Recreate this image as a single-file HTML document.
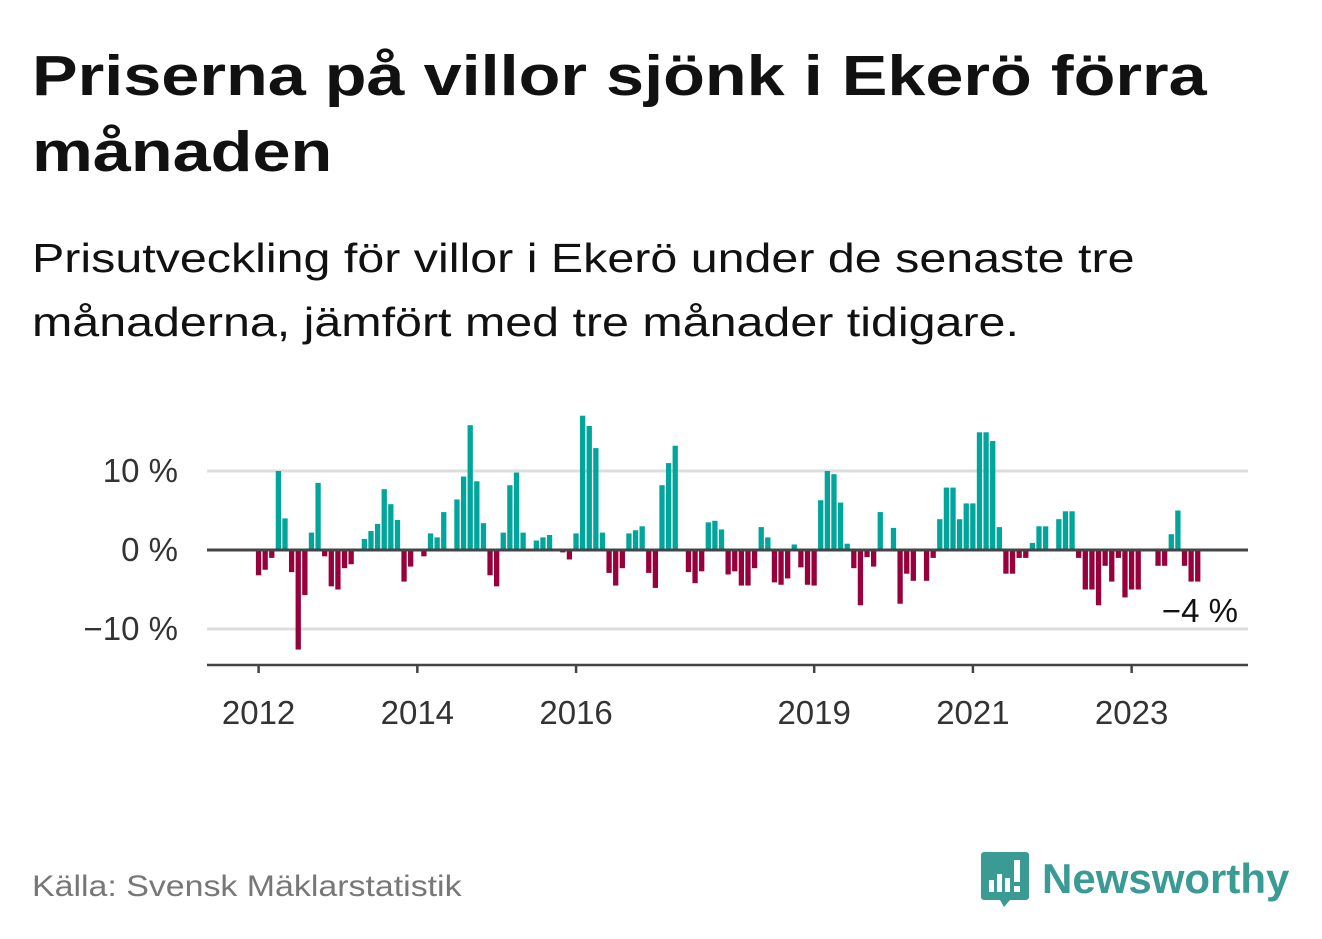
<!DOCTYPE html>
<html><head><meta charset="utf-8"><style>
body{margin:0;width:1322px;height:939px;background:#fff;font-family:"Liberation Sans","DejaVu Sans",sans-serif;overflow:hidden;position:relative}
h1{position:absolute;left:32px;top:38px;margin:0;font-size:57px;line-height:76px;font-weight:bold;color:#111;white-space:nowrap;transform:scaleX(1.2);transform-origin:0 0}
.sub{position:absolute;left:32px;top:226px;margin:0;font-size:41px;line-height:64px;color:#111;white-space:nowrap;transform:scaleX(1.18);transform-origin:0 0}
.src{position:absolute;left:32px;top:870px;font-size:30px;color:#777;white-space:nowrap;transform:scaleX(1.13);transform-origin:0 0}
.logo{position:absolute;left:980px;top:850px;display:flex;align-items:center}
.logo span{font-size:42px;font-weight:bold;color:#3a9b94;margin-left:12px}
</style></head><body>
<h1>Priserna på villor sjönk i Ekerö förra<br>månaden</h1>
<p class="sub">Prisutveckling för villor i Ekerö under de senaste tre<br>månaderna, jämfört med tre månader tidigare.</p>
<svg id="chart" width="1322" height="939" style="position:absolute;left:0;top:0" font-family="Liberation Sans, DejaVu Sans, sans-serif"></svg>
<div class="src">Källa: Svensk Mäklarstatistik</div>
<div class="logo">
<svg width="50" height="58" viewBox="0 0 50 58"><path d="M4 2h42a3 3 0 0 1 3 3v42a3 3 0 0 1-3 3H30l-6 7-4-7H4a3 3 0 0 1-3-3V5a3 3 0 0 1 3-3z" fill="#3a9b94"/><rect x="9" y="30" width="5" height="12" fill="#fff"/><rect x="17" y="24" width="5" height="18" fill="#fff"/><rect x="25" y="28" width="5" height="14" fill="#fff"/><rect x="34" y="10" width="6" height="22" fill="#fff"/><rect x="34" y="36" width="6" height="6" fill="#fff"/></svg>
<span>Newsworthy</span></div>
<script>
const values=[-3.2,-2.5,-1,10,4,-2.8,-12.6,-5.7,2.2,8.5,-0.8,-4.6,-5,-2.3,-1.8,0,1.4,2.4,3.3,7.7,5.8,3.8,-4,-2.1,0,-0.8,2.1,1.6,4.8,0,6.4,9.3,15.8,8.7,3.4,-3.2,-4.6,2.2,8.2,9.8,2.2,0,1.2,1.6,1.9,0,-0.3,-1.2,2.1,17,15.7,12.9,2.2,-2.9,-4.5,-2.3,2.1,2.5,3.0,-2.9,-4.8,8.2,11,13.2,0,-2.8,-4.2,-2.7,3.5,3.7,2.6,-3.1,-2.7,-4.5,-4.5,-2.3,2.9,1.6,-4.1,-4.4,-3.6,0.7,-2.2,-4.4,-4.5,6.3,10,9.6,6,0.8,-2.3,-7,-0.9,-2.1,4.8,0,2.8,-6.8,-3,-3.9,0,-3.9,-1,3.9,7.9,7.9,3.9,5.9,5.9,14.9,14.9,13.8,2.9,-3,-3,-1,-1,0.9,3,3,0,3.9,4.9,4.9,-1,-5,-5,-7,-2,-4,-1,-6,-5,-5,0,0,-2,-2,2,5,-2,-4,-4];
const yTicks=[10,0,-10];
const yTickLabels=["10 %","0 %","−10 %"];
const xYears=[2012,2014,2016,2019,2021,2023];
const lastLabel="−4 %";
const svg=document.getElementById('chart');const NS='http://www.w3.org/2000/svg';
const y=v=>550-v*7.9;
const x=i=>258.6+i*6.614;
const x0=207,x1=1248;
function mk(t,a){const e=document.createElementNS(NS,t);for(const k in a)e.setAttribute(k,a[k]);svg.appendChild(e);return e;}
yTicks.forEach((v,k)=>{if(v!==0){const g=mk('line',{x1:x0,x2:x1,y1:y(v),y2:y(v),stroke:'#ddd','stroke-width':3});

}
const t=mk('text',{x:178,y:y(v)+11,'text-anchor':'end','font-size':33,fill:'#333'});t.textContent=yTickLabels[k];

});
values.forEach((v,i)=>{const r=mk('rect',{x:x(i)-2.7,width:5.3,y:Math.min(y(v),550),height:Math.abs(y(v)-550),fill:v>=0?'#00a59b':'#98003c'});

});
const z=mk('line',{x1:x0,x2:x1,y1:550,y2:550,stroke:'#444','stroke-width':3});


const ax=mk('line',{x1:x0,x2:x1,y1:665,y2:665,stroke:'#444','stroke-width':2.5});


xYears.forEach(yr=>{const px=x((yr-2012)*12);mk('line',{x1:px,x2:px,y1:665,y2:673,stroke:'#444','stroke-width':2.5});
const t=mk('text',{x:px,y:724,'text-anchor':'middle','font-size':33,fill:'#333'});t.textContent=yr;

});
const ll=mk('text',{x:1238,y:622,'text-anchor':'end','font-size':33,fill:'#111',stroke:'#fff','stroke-width':6,'paint-order':'stroke'});ll.textContent=lastLabel;


</script>
</body></html>
